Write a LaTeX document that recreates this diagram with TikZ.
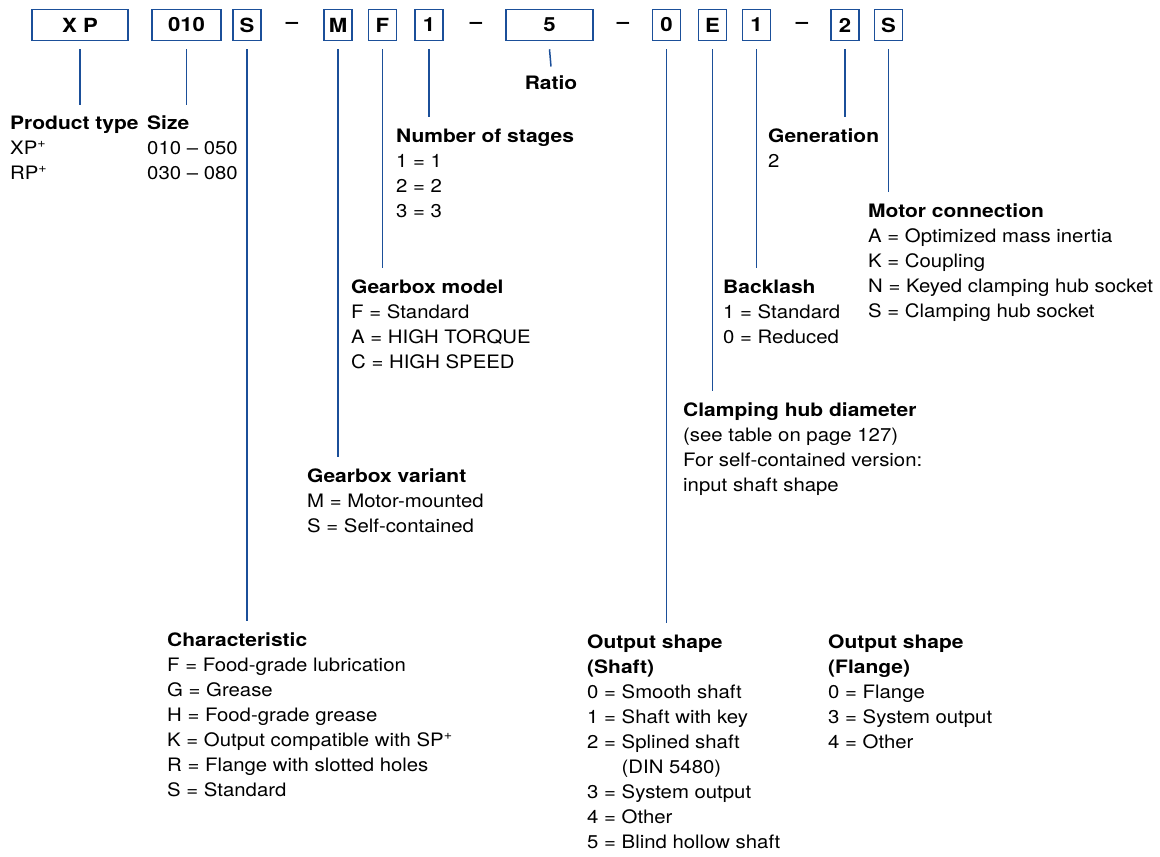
\documentclass[tikz,border=0pt]{standalone}
\usepackage{fontspec}
\setmainfont[FakeStretch=1.1,BoldFeatures={FakeStretch=1.135}]{TeX Gyre Heros}
\usetikzlibrary{positioning,calc}
\definecolor{codeblue}{HTML}{1B4F99}

\tikzset{
  codebox/.style={draw=codeblue, line width=1.5pt, minimum height=31pt, minimum width=28pt, inner sep=0pt, font=\fontsize{19.5}{22}\selectfont\bfseries},
  codesep/.style={inner sep=0pt, font=\fontsize{19.5}{22}\selectfont\bfseries},
  conn/.style={draw=codeblue, line width=1.5pt},
  group/.style={anchor=north west, inner sep=0pt, align=left, font=\fontsize{18.5}{25}\selectfont},
}

\begin{document}
\begin{tikzpicture}[x=1pt,y=-1pt]
  \useasboundingbox (0,0) rectangle (1160,857);

  % order code boxes
  \node[codebox, minimum width=96pt] (bxp)   at (80,25)    {X P};
  \node[codebox, minimum width=69pt] (bsize) at (186.5,25) {010};
  \node[codebox] (bchar)  at (247,25)   {S};
  \node[codesep] (dasha)  at (292,25)   {--};
  \node[codebox] (bvar)   at (338,25)   {M};
  \node[codebox] (bmodel) at (382.5,25) {F};
  \node[codebox] (bstage) at (429,25)   {1};
  \node[codesep] (dashb)  at (476,25)   {--};
  \node[codebox, minimum width=87pt] (bratio) at (549.5,25) {5};
  \node[codesep] (dashc)  at (623,25)   {--};
  \node[codebox] (bout)   at (666.5,25) {0};
  \node[codebox] (bhub)   at (712.5,25) {E};
  \node[codebox] (blash)  at (756.5,25) {1};
  \node[codesep] (dashd)  at (802,25)   {--};
  \node[codebox] (bgen)   at (845,25)   {2};
  \node[codebox] (bmotor) at (888.5,25) {S};

  % explanations
  \node[group] (ptype) at (10,111.5) {\strut\textbf{Product type}\\XP\textsuperscript{+}\\RP\textsuperscript{+}};
  \node[group] (size) at (147,111.5) {\strut\textbf{Size}\\010 -- 050\\030 -- 080};
  \node[group, anchor=north] (ratio) at (551,71.5) {\strut\textbf{Ratio}};
  \node[group] (stage) at (396,124.5) {\strut\textbf{Number of stages}\\1 = 1\\2 = 2\\3 = 3};
  \node[group] (gen) at (768,124.5) {\strut\textbf{Generation}\\2};
  \node[group] (motor) at (868,199.5) {\strut\textbf{Motor connection}\\A = Optimized mass inertia\\K = Coupling\\N = Keyed clamping hub socket\\S = Clamping hub socket};
  \node[group] (lash) at (723,275.5) {\strut\textbf{Backlash}\\1 = Standard\\0 = Reduced};
  \node[group] (model) at (351,275.5) {\strut\textbf{Gearbox model}\\F = Standard\\A = HIGH TORQUE\\C = HIGH SPEED};
  \node[group] (hub) at (683,398.5) {\strut\textbf{Clamping hub diameter}\\(see table on page 127)\\For self-contained version:\\input shaft shape};
  \node[group] (var) at (307,464.5) {\strut\textbf{Gearbox variant}\\M = Motor-mounted\\S = Self-contained};
  \node[group] (char) at (167,628.5) {\strut\textbf{Characteristic}\\F = Food-grade lubrication\\G = Grease\\H = Food-grade grease\\K = Output compatible with SP\textsuperscript{+}\\R = Flange with slotted holes\\S = Standard};
  \node[group] (shaft) at (587,630.5) {\strut\textbf{Output shape}\\\textbf{(Shaft)}\\0 = Smooth shaft\\1 = Shaft with key\\2 = Splined shaft\\\phantom{2 = }(DIN 5480)\\3 = System output\\4 = Other\\5 = Blind hollow shaft};
  \node[group] (flange) at (828,630.5) {\strut\textbf{Output shape}\\\textbf{(Flange)}\\0 = Flange\\3 = System output\\4 = Other};

  % connectors
  \draw[conn] ([yshift=-8pt]bxp.south) -- ([yshift=7pt]bxp.south |- ptype.north);
  \draw[conn] ([yshift=-8pt]bsize.south) -- ([yshift=7pt]bsize.south |- size.north);
  \draw[conn] ([yshift=-8pt]bchar.south) -- ([yshift=8pt]bchar.south |- char.north);
  \draw[conn] ([yshift=-8pt]bvar.south) -- ([yshift=8pt]bvar.south |- var.north);
  \draw[conn] ([yshift=-8pt]bmodel.south) -- ([yshift=8pt]bmodel.south |- model.north);
  \draw[conn] ([yshift=-8pt]bstage.south) -- ([yshift=8pt]bstage.south |- stage.north);
  \draw[conn] ([yshift=-8pt]bratio.south) -- ([yshift=5pt]ratio.north);
  \draw[conn] ([yshift=-8pt]bout.south) -- ([yshift=8pt]bout.south |- shaft.north);
  \draw[conn] ([yshift=-8pt]bhub.south) -- ([yshift=8pt]bhub.south |- hub.north);
  \draw[conn] ([yshift=-8pt]blash.south) -- ([yshift=8pt]blash.south |- lash.north);
  \draw[conn] ([yshift=-8pt]bgen.south) -- ([yshift=8pt]bgen.south |- gen.north);
  \draw[conn] ([yshift=-8pt]bmotor.south) -- ([yshift=8pt]bmotor.south |- motor.north);
\end{tikzpicture}
\end{document}
